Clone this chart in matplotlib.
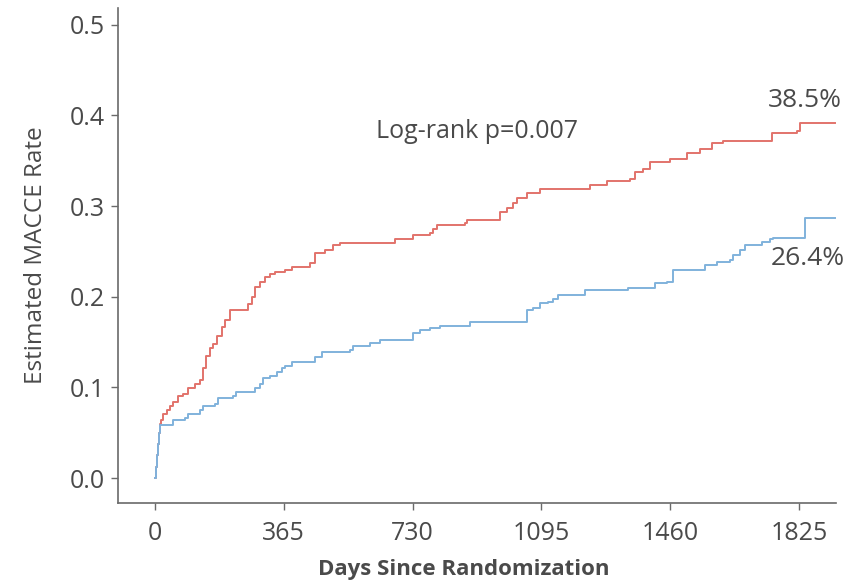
import matplotlib
matplotlib.use("Agg")
import matplotlib.pyplot as plt

plt.rcParams['font.family'] = ['Open Sans', 'DejaVu Sans']

# Red group (higher MACCE)
red_days = [0, 2, 5, 8, 11, 14, 17, 24, 33, 42, 52, 66, 80, 94, 113, 127, 137, 146, 156, 165,
            175, 189, 198, 212, 264, 274, 283, 297, 312, 326, 340, 368, 387, 439, 453, 482,
            504, 524, 680, 731, 779, 788, 799, 878, 884, 977, 997, 1014, 1025, 1054, 1091,
            1232, 1280, 1346, 1360, 1382, 1402, 1459, 1507, 1544, 1578, 1609, 1748, 1819,
            1827, 1926]
red_rate = [0.0, 0.012, 0.025, 0.038, 0.05, 0.06, 0.064, 0.071, 0.075, 0.080, 0.084, 0.090,
            0.093, 0.099, 0.104, 0.108, 0.121, 0.135, 0.143, 0.148, 0.157, 0.167, 0.174, 0.185,
            0.192, 0.200, 0.211, 0.216, 0.222, 0.225, 0.227, 0.230, 0.233, 0.237, 0.248, 0.251,
            0.257, 0.259, 0.264, 0.268, 0.270, 0.275, 0.279, 0.281, 0.285, 0.293, 0.298, 0.303,
            0.309, 0.314, 0.319, 0.323, 0.328, 0.330, 0.337, 0.341, 0.348, 0.352, 0.358, 0.363,
            0.369, 0.372, 0.381, 0.383, 0.392, 0.392]

# Blue group (lower MACCE)
blue_days = [0, 2, 5, 8, 11, 14, 52, 85, 94, 127, 137, 170, 179, 222, 231, 283, 297, 307, 326,
             345, 359, 368, 387, 453, 473, 552, 561, 609, 637, 731, 751, 779, 807, 892, 1054,
             1071, 1091, 1113, 1127, 1142, 1218, 1340, 1416, 1450, 1467, 1558, 1592, 1629,
             1637, 1657, 1671, 1720, 1742, 1751, 1841, 1926]
blue_rate = [0.0, 0.012, 0.025, 0.038, 0.05, 0.058, 0.064, 0.066, 0.071, 0.075, 0.079, 0.082,
             0.088, 0.090, 0.095, 0.099, 0.104, 0.110, 0.113, 0.117, 0.121, 0.124, 0.128, 0.133,
             0.139, 0.141, 0.146, 0.149, 0.152, 0.160, 0.163, 0.165, 0.168, 0.172, 0.185, 0.188,
             0.193, 0.194, 0.198, 0.202, 0.207, 0.210, 0.215, 0.216, 0.229, 0.235, 0.238, 0.240,
             0.246, 0.251, 0.257, 0.260, 0.264, 0.265, 0.287, 0.287]

x_ticks = [0, 365, 730, 1095, 1460, 1825]
y_ticks = [0.0, 0.1, 0.2, 0.3, 0.4, 0.5]
y_labels = ['0.0', '0.1', '0.2', '0.3', '0.4', '0.5']

RED = '#e2736b'
BLUE = '#80b2dc'
TXT = '#4a4a4a'
AX = '#6a6a6a'

fig = plt.figure(figsize=(8.6, 5.82), dpi=100)
ax = fig.add_axes([0.137, 0.1357, 0.835, 0.85])

ax.step(red_days, red_rate, where='post', color=RED, lw=1.4)
ax.step(blue_days, blue_rate, where='post', color=BLUE, lw=1.4)

ax.set_xlim(-105, 1929)
ax.set_ylim(-0.0275, 0.518)
ax.set_xticks(x_ticks)
ax.set_xticklabels([str(t) for t in x_ticks])
ax.set_yticks(y_ticks)
ax.set_yticklabels(y_labels)

for s in ['top', 'right']:
    ax.spines[s].set_visible(False)
for s in ['left', 'bottom']:
    ax.spines[s].set_color(AX)
    ax.spines[s].set_linewidth(1.2)

ax.tick_params(axis='both', direction='out', length=5, width=1, color=AX,
               labelcolor=TXT, labelsize=18)
ax.tick_params(axis='x', pad=8)
ax.tick_params(axis='y', pad=4)

ax.set_ylabel('Estimated MACCE Rate', fontsize=17.5, color=TXT, labelpad=16)
ax.set_xlabel('Days Since Randomization', fontsize=16, color=TXT, fontweight='bold', labelpad=9)
ax.xaxis.label.set_x(0.482)

ax.text(912, 0.382, 'Log-rank p=0.007', fontsize=18, color=TXT, ha='center', va='center')
ax.text(1946, 0.416, '38.5%', fontsize=19, color=TXT, ha='right', va='center')
ax.text(1955, 0.242, '26.4%', fontsize=19, color=TXT, ha='right', va='center')

fig.savefig('out.png', dpi=100)
